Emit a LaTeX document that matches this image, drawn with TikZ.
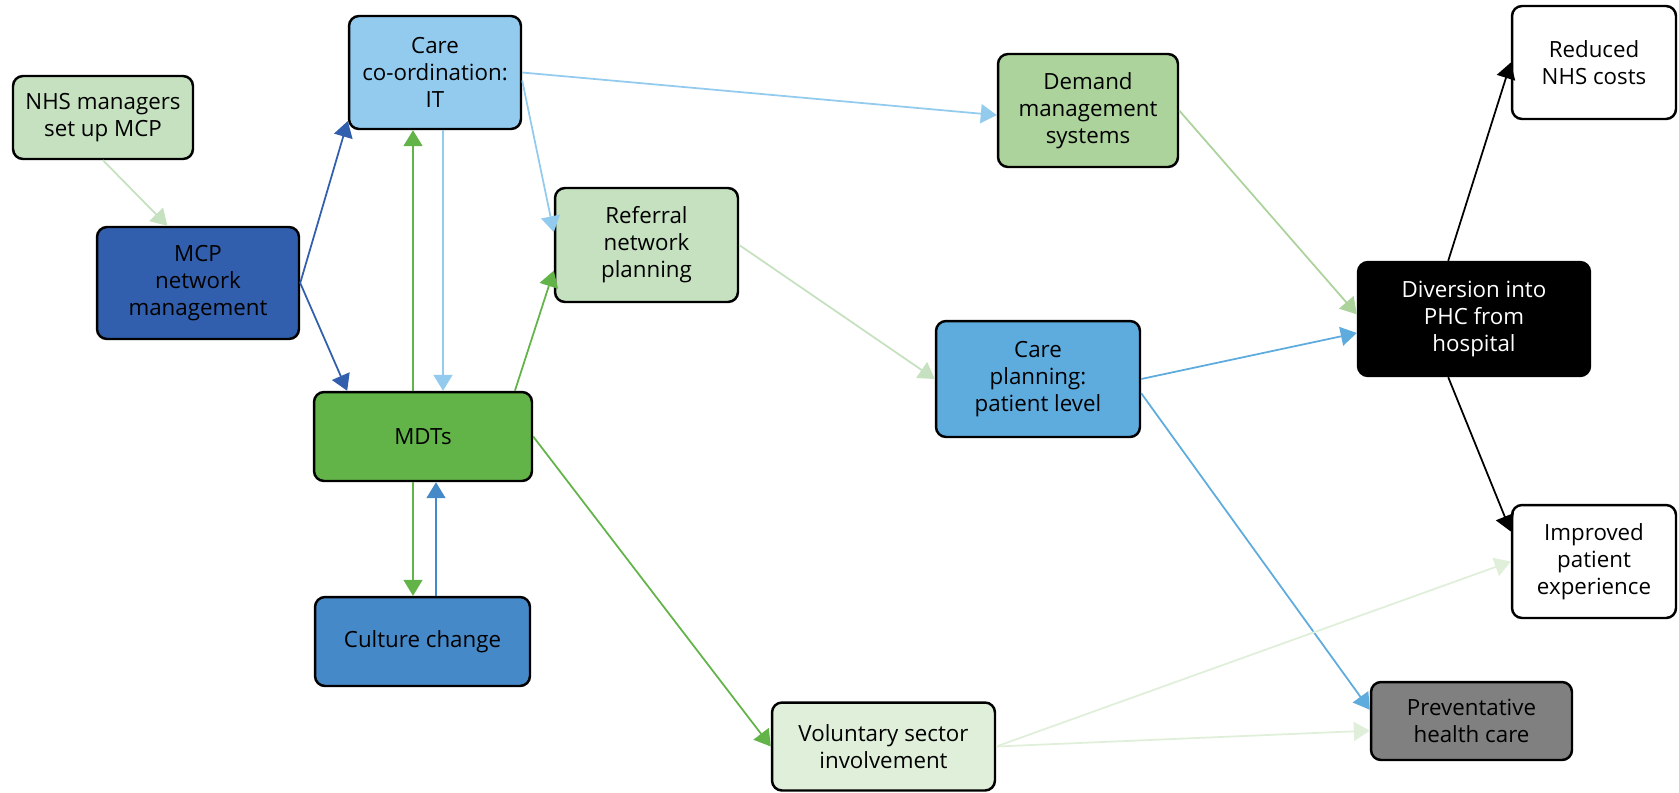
\documentclass[tikz,border=0pt]{standalone}
\usepackage{fontspec}
\setmainfont{Open Sans}
\usetikzlibrary{arrows.meta,calc}

\definecolor{lgreen}{HTML}{C5E1BF}
\definecolor{ltblue}{HTML}{93CBEE}
\definecolor{mcpblue}{HTML}{315FAD}
\definecolor{mdtgreen}{HTML}{62B449}
\definecolor{cultblue}{HTML}{4689C8}
\definecolor{dmdgreen}{HTML}{ABD39B}
\definecolor{cpblue}{HTML}{5EABDE}
\definecolor{volgreen}{HTML}{DFEFDA}
\definecolor{prevgrey}{HTML}{808080}

\begin{document}
\begin{tikzpicture}[x=0.02cm, y=-0.02cm, >={Triangle[length=0.32cm,width=0.38cm]}]
    \tikzstyle{box}=[draw, line width=1.4pt, rounded corners=0.2cm, align=center, inner sep=0pt, font=\fontsize{12.7}{15.4}\selectfont]
    \tikzstyle{link}=[->, line width=1pt]
    \useasboundingbox (0,0) rectangle (1679,792);

    % draw boxes
    \node [box, fill=lgreen, minimum width=3.6cm, minimum height=1.66cm] (nhs) at (103,117.5) {NHS managers\\set up MCP};
    \node [box, fill=ltblue, minimum width=3.44cm, minimum height=2.26cm] (carecoord) at (435,72.5) {Care\\co-ordination:\\IT};
    \node [box, fill=mcpblue, minimum width=4.04cm, minimum height=2.24cm] (mcp) at (198,283) {MCP\\network\\management};
    \node [box, fill=mdtgreen, minimum width=4.36cm, minimum height=1.78cm] (mdt) at (423,436.5) {MDTs};
    \node [box, fill=cultblue, minimum width=4.3cm, minimum height=1.78cm] (culture) at (422.5,641.5) {Culture change};
    \node [box, fill=lgreen, minimum width=3.66cm, minimum height=2.28cm] (referral) at (646.5,245) {Referral\\network\\planning};
    \node [box, fill=dmdgreen, minimum width=3.6cm, minimum height=2.26cm] (demand) at (1088,110.5) {Demand\\management\\systems};
    \node [box, fill=cpblue, minimum width=4.08cm, minimum height=2.32cm] (careplan) at (1038,379) {Care\\planning:\\patient level};
    \node [box, fill=volgreen, minimum width=4.46cm, minimum height=1.76cm] (voluntary) at (883.5,746.5) {Voluntary sector\\involvement};
    \node [box, fill=black, text=white, minimum width=4.64cm, minimum height=2.28cm] (diversion) at (1474,319) {Diversion into\\PHC from\\hospital};
    \node [box, fill=white, minimum width=3.28cm, minimum height=2.26cm] (reduced) at (1594,62.5) {Reduced\\NHS costs};
    \node [box, fill=white, minimum width=3.28cm, minimum height=2.26cm] (improved) at (1594,561.5) {Improved\\patient\\experience};
    \node [box, fill=prevgrey, minimum width=4.02cm, minimum height=1.56cm] (prevent) at (1471.5,721) {Preventative\\health care};

    % helper points for the parallel links
    \coordinate (mdtA) at ($(mdt.north)+(-10,0)$);
    \coordinate (mdtB) at ($(mdt.north)+(20,0)$);
    \coordinate (mdtC) at ($(mdt.south)+(-10,0)$);
    \coordinate (mdtD) at ($(mdt.south)+(13,0)$);

    % draw lines
    \draw [link, lgreen] (nhs.south) -- ($(mcp.north west)!0.35!(mcp.north east)$);
    \draw [link, mcpblue] (mcp.east) -- ($(carecoord.north west)!0.92!(carecoord.south west)$);
    \draw [link, mcpblue] (mcp.east) -- ($(mdt.north west)!0.156!(mdt.north east)$);

    \draw [link, mdtgreen] (mdtA) -- (mdtA |- carecoord.south);
    \draw [link, ltblue] (mdtB |- carecoord.south) -- (mdtB);
    \draw [link, mdtgreen] (mdtC) -- (mdtC |- culture.north);
    \draw [link, cultblue] (mdtD |- culture.north) -- (mdtD);

    \draw [link, ltblue] (carecoord.east) -- ($(demand.north west)!0.54!(demand.south west)$);
    \draw [link, ltblue] ($(carecoord.north east)!0.57!(carecoord.south east)$) -- ($(referral.north west)!0.39!(referral.south west)$);
    \draw [link, mdtgreen] ($(mdt.north west)!0.917!(mdt.north east)$) -- ($(referral.north west)!0.72!(referral.south west)$);
    \draw [link, mdtgreen] (mdt.east) -- (voluntary.west);
    \draw [link, lgreen] (referral.east) -- (careplan.west);

    \draw [link, dmdgreen] (demand.east) -- ($(diversion.north west)!0.46!(diversion.south west)$);
    \draw [link, cpblue] (careplan.east) -- ($(diversion.north west)!0.62!(diversion.south west)$);
    \draw [link, cpblue] ($(careplan.north east)!0.62!(careplan.south east)$) -- ($(prevent.north west)!0.36!(prevent.south west)$);

    \draw [link, black] ($(diversion.north west)!0.39!(diversion.north east)$) -- (reduced.west);
    \draw [link, black] ($(diversion.south west)!0.39!(diversion.south east)$) -- ($(improved.north west)!0.24!(improved.south west)$);

    \draw [link, volgreen] (voluntary.east) -- (improved.west);
    \draw [link, volgreen] (voluntary.east) -- ($(prevent.north west)!0.62!(prevent.south west)$);

\end{tikzpicture}
\end{document}
